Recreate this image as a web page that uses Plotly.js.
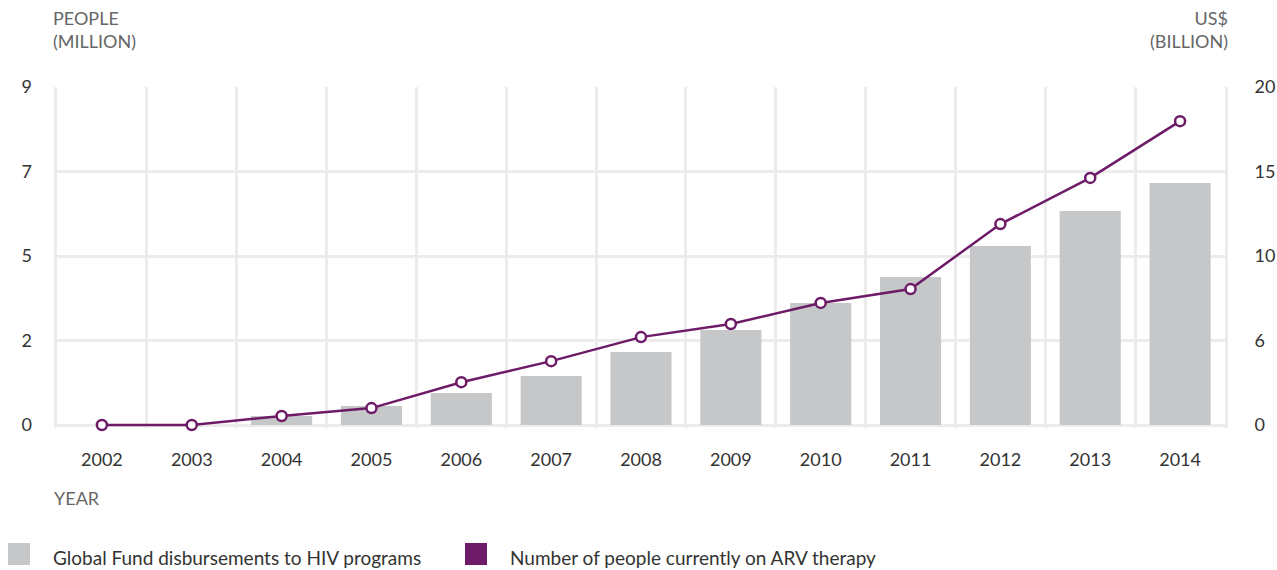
<!DOCTYPE html>
<html>
<head>
<meta charset="utf-8">
<script src="https://cdn.plot.ly/plotly-3.0.1.min.js"></script>
<style>
  html, body { margin: 0; padding: 0; background: #ffffff; }
  #chart { width: 1277px; height: 570px; }
</style>
</head>
<body>
<div id="chart"></div>
<script>
const years = ['2002','2003','2004','2005','2006','2007','2008','2009','2010','2011','2012','2013','2014'];
// Global Fund disbursements to HIV programs, US$ billion (right axis)
const disbursements = [0, 0, 0.53, 1.12, 1.89, 2.9, 4.32, 5.62, 7.22, 8.76, 10.59, 12.66, 14.32];
// Number of people currently on ARV therapy, million (left axis)
const peopleOnARV = [0, 0, 0.24, 0.45, 1.14, 1.70, 2.34, 2.69, 3.25, 3.62, 5.35, 6.58, 8.09];

const leftTickVals = [0, 2.25, 4.5, 6.75, 9];
const leftTickText = ['0', '2', '5', '7', '9'];
const rightTickVals = [0, 5, 10, 15, 20];
const rightTickText = ['0', '6', '10', '15', '20'];

const barName = 'Global Fund disbursements to HIV programs';
const lineName = 'Number of people currently on ARV therapy';

const barColor = '#c6c7c9';
const lineColor = '#6d1a67';
const gridColor = '#ececec';
const FONT = 'Lato, "Open Sans", sans-serif';

// plot area: zero at y=425px, top (max) at y=87px; area extended 3px below zero
const PAD_PX = 3, SPAN_PX = 338;
const rightMax = 20, leftMax = 9;

const traces = [
  {
    type: 'bar', x: years, y: disbursements, name: barName,
    marker: { color: barColor }, width: 0.68, yaxis: 'y',
    hoverinfo: 'x+y'
  },
  {
    type: 'scatter', mode: 'lines+markers', x: years, y: peopleOnARV, name: lineName,
    line: { color: lineColor, width: 2.5 },
    marker: { color: '#ffffff', size: 10, line: { color: lineColor, width: 2.5 } },
    yaxis: 'y2', cliponaxis: false
  }
];

const layout = {
  width: 1277, height: 570,
  margin: { l: 57, r: 52, t: 87, b: 145 - PAD_PX },
  paper_bgcolor: '#ffffff', plot_bgcolor: '#ffffff',
  font: { family: FONT, size: 18, color: '#333333' },
  showlegend: false,
  xaxis: {
    type: 'category', categoryorder: 'array', categoryarray: years,
    range: [-0.5, 12.5],
    tickson: 'boundaries', ticks: '', showgrid: true,
    gridcolor: gridColor, gridwidth: 3,
    showline: false,
    layer: 'below traces',
    zeroline: false,
    ticklabelstandoff: 19,
    tickfont: { family: FONT, size: 18, color: '#333333' },
    fixedrange: true
  },
  yaxis: {
    side: 'right', range: [-rightMax * PAD_PX / SPAN_PX, rightMax],
    tickmode: 'array', tickvals: rightTickVals, ticktext: rightTickText,
    showgrid: true, gridcolor: gridColor, gridwidth: 3,
    showline: true, mirror: true, linecolor: gridColor, linewidth: 3,
    layer: 'below traces',
    zeroline: false, ticks: '',
    ticklabelstandoff: 23,
    tickfont: { family: FONT, size: 18, color: '#333333' },
    fixedrange: true
  },
  yaxis2: {
    side: 'left', overlaying: 'y', range: [-leftMax * PAD_PX / SPAN_PX, leftMax],
    tickmode: 'array', tickvals: leftTickVals, ticktext: leftTickText,
    showgrid: false, zeroline: false, showline: false, ticks: '',
    layer: 'below traces',
    ticklabelstandoff: 24,
    tickfont: { family: FONT, size: 18, color: '#333333' },
    fixedrange: true
  },
  annotations: [
    { text: 'PEOPLE<br>(MILLION)', xref: 'paper', yref: 'paper',
      x: (51 - 57) / 1168, y: (428 - 5) / 341, xanchor: 'left', yanchor: 'top',
      align: 'left', showarrow: false,
      font: { family: FONT, size: 18, color: '#666666' } },
    { text: 'US$<br>(BILLION)', xref: 'paper', yref: 'paper',
      x: (1230 - 57) / 1168, y: (428 - 5) / 341, xanchor: 'right', yanchor: 'top',
      align: 'right', showarrow: false,
      font: { family: FONT, size: 18, color: '#666666' } },
    { text: 'YEAR', xref: 'paper', yref: 'paper',
      x: (52 - 57) / 1168, y: (428 - 498) / 341, xanchor: 'left', yanchor: 'middle',
      showarrow: false,
      font: { family: FONT, size: 18, color: '#666666' } },
    { text: barName, xref: 'paper', yref: 'paper',
      x: (51 - 57) / 1168, y: (428 - 557) / 341, xanchor: 'left', yanchor: 'middle',
      showarrow: false,
      font: { family: FONT, size: 19, color: '#333333' } },
    { text: lineName, xref: 'paper', yref: 'paper',
      x: (508 - 57) / 1168, y: (428 - 557) / 341, xanchor: 'left', yanchor: 'middle',
      showarrow: false,
      font: { family: FONT, size: 19, color: '#333333' } }
  ],
  shapes: [
    { type: 'rect', xref: 'paper', yref: 'paper', layer: 'above',
      x0: (8 - 57) / 1168, x1: (30 - 57) / 1168,
      y0: (428 - 565) / 341, y1: (428 - 543) / 341,
      fillcolor: barColor, line: { width: 0 } },
    { type: 'rect', xref: 'paper', yref: 'paper', layer: 'above',
      x0: (465 - 57) / 1168, x1: (487 - 57) / 1168,
      y0: (428 - 565) / 341, y1: (428 - 543) / 341,
      fillcolor: lineColor, line: { width: 0 } }
  ]
};

Plotly.newPlot('chart', traces, layout, { displayModeBar: false, staticPlot: true });
</script>
</body>
</html>
